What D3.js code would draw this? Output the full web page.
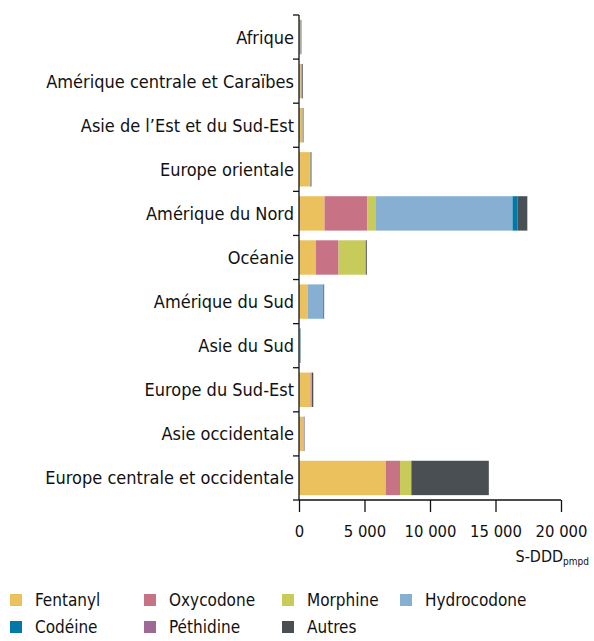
<!DOCTYPE html>
<html><head><meta charset="utf-8">
<script src="https://cdn.jsdelivr.net/npm/d3@7"></script>
<style>body{margin:0;background:#fff}svg{display:block}text{font-family:"DejaVu Sans Condensed",sans-serif;fill:#111}</style>
</head><body><svg id="c" width="594" height="641"></svg>
<script>
const categories = ["Afrique","Amérique centrale et Caraïbes","Asie de l’Est et du Sud-Est","Europe orientale","Amérique du Nord","Océanie","Amérique du Sud","Asie du Sud","Europe du Sud-Est","Asie occidentale","Europe centrale et occidentale"];
const seriesNames = ["Fentanyl","Oxycodone","Morphine","Hydrocodone","Codéine","Péthidine","Autres"];
const seriesColors = ["#ebc15e","#c87286","#c6cb5a","#86afd2","#0079a8","#9e6a95","#4a4f53"];
const fentanyl    = [60, 100, 200, 830, 1950, 1290, 625, 30, 880, 290, 6620];
const oxycodone   = [10, 30, 60, 0, 3250, 1730, 0, 0, 80, 30, 1090];
const morphine    = [40, 30, 30, 40, 680, 2070, 30, 50, 20, 20, 850];
const hydrocodone = [0, 60, 0, 0, 10420, 0, 1195, 0, 0, 40, 0];
const codeine     = [10, 20, 10, 10, 390, 20, 10, 20, 10, 10, 10];
const pethidine   = [20, 10, 20, 10, 0, 20, 0, 0, 0, 20, 10];
const autres      = [40, 50, 30, 60, 740, 60, 60, 20, 100, 20, 5910];
const xTicks = [0, 5000, 10000, 15000, 20000];

const svg = d3.select("#c");
const margin = {left: 299, top: 15, right: 33, bottom: 141};
const W = 594, H = 641;
const x = d3.scaleLinear().domain([0, 20000]).range([margin.left, W - margin.right]);
const y = d3.scaleBand().domain(categories).range([margin.top, H - margin.bottom]).paddingInner(0.22).paddingOuter(0.11);

const vals = [fentanyl, oxycodone, morphine, hydrocodone, codeine, pethidine, autres];
const table = categories.map((c, i) => { const o = {cat: c}; seriesNames.forEach((s, j) => o[s] = vals[j][i]); return o; });
const stack = d3.stack().keys(seriesNames)(table);

svg.append("g").selectAll("g").data(stack).join("g")
  .attr("fill", (d, i) => seriesColors[i])
  .selectAll("rect").data(d => d).join("rect")
  .attr("x", d => x(d[0])).attr("width", d => Math.max(0, x(d[1]) - x(d[0])))
  .attr("y", d => y(d.data.cat)).attr("height", y.bandwidth());

// x axis
const xa = svg.append("g").attr("transform", `translate(0,${H - margin.bottom})`)
  .call(d3.axisBottom(x).tickValues(xTicks).tickSize(12).tickPadding(13).tickFormat(v => d3.format(",")(v).replace(/,/g, " ")));
xa.select(".domain").attr("stroke", "#111").attr("stroke-width", 1.3).attr("d", `M${x(0)},0H${x(20000)}`);
xa.selectAll(".tick line").attr("stroke", "#111").attr("stroke-width", 1.3);
xa.selectAll("text").attr("font-size", 16.5).attr("fill", "#111").style("font-family", '"DejaVu Sans Condensed",sans-serif');

// y axis
const yBounds = [...categories.map(c => y(c) - y.step() * y.paddingInner() / 2), H - margin.bottom];
const ya = svg.append("g");
ya.append("line").attr("x1", margin.left).attr("x2", margin.left).attr("y1", margin.top).attr("y2", H - margin.bottom).attr("stroke", "#111").attr("stroke-width", 1.3);
ya.selectAll("line.t").data(yBounds).join("line").attr("class", "t")
  .attr("x1", margin.left - 6).attr("x2", margin.left).attr("y1", d => d).attr("y2", d => d).attr("stroke", "#111").attr("stroke-width", 1.3);
ya.selectAll("text").data(categories).join("text")
  .attr("x", margin.left - 5).attr("y", d => y(d) + y.bandwidth() / 2).attr("dy", "0.36em")
  .attr("text-anchor", "end").attr("font-size", 18).text(d => d);

// axis title
const t = svg.append("text").attr("x", 589).attr("y", 562).attr("text-anchor", "end").attr("font-size", 16);
t.append("tspan").text("S-DDD");
t.append("tspan").attr("font-size", 10).attr("dy", 3).text("pmpd");

// legend
const legX = [10, 144, 282, 400];
const lg = svg.append("g");
seriesNames.forEach((s, i) => {
  const col = i % 4, row = Math.floor(i / 4);
  const gx = legX[col], gy = 594 + row * 27;
  lg.append("rect").attr("x", gx).attr("y", gy).attr("width", 12).attr("height", 12).attr("fill", seriesColors[i]);
  lg.append("text").attr("x", gx + 25).attr("y", gy + 6).attr("dy", "0.38em").attr("font-size", 17).text(s);
});
</script></body></html>
